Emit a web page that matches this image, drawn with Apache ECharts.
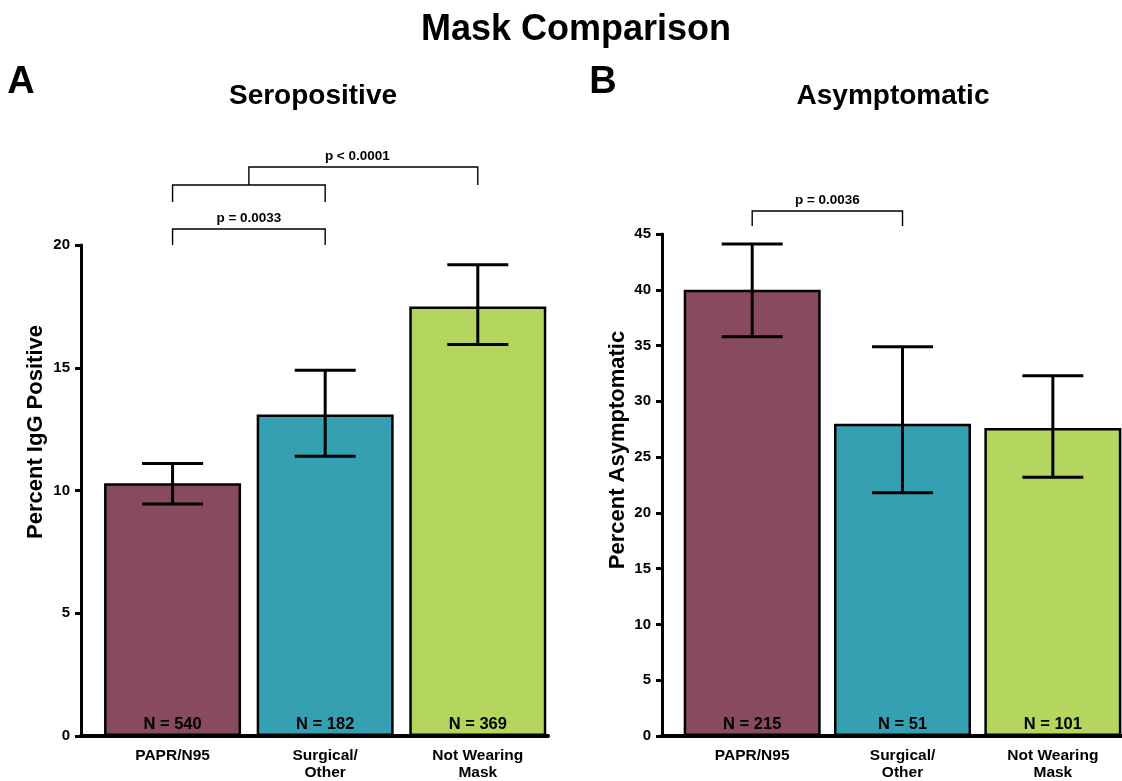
<!DOCTYPE html>
<html>
<head>
<meta charset="utf-8">
<title>Mask Comparison</title>
<script src="https://cdn.jsdelivr.net/npm/echarts@6/dist/echarts.min.js"></script>
<style>
  html, body { margin: 0; padding: 0; background: #fff; overflow: hidden; }
  #chart { width: 1122px; height: 781px; }
</style>
</head>
<body>
<div id="chart"></div>
<script>
// Mask groups shown on both panels
const categories = ['PAPR/N95', 'Surgical/\nOther', 'Not Wearing\nMask'];
const barColors = ['#884a5f', '#35a0b1', '#b5d65e'];

// Panel A: percent IgG positive, with error bar bounds and group sizes
const seroValues = [10.3, 13.1, 17.5];
const seroLow = [9.45, 11.4, 15.95];
const seroHigh = [11.1, 14.9, 19.2];
const seroN = [540, 182, 369];
const seroTicks = [0, 5, 10, 15, 20];

// Panel B: percent asymptomatic, with error bar bounds and group sizes
const asymValues = [40.0, 28.0, 27.6];
const asymLow = [35.8, 21.8, 23.2];
const asymHigh = [44.1, 34.9, 32.3];
const asymN = [215, 51, 101];
const asymTicks = [0, 5, 10, 15, 20, 25, 30, 35, 40, 45];

// Pairwise comparisons: groups compared (1-based positions) and p-values
const seroTests = [
  { a: [1], b: [2], p: 'p = 0.0033' },
  { a: [1, 2], b: [3], p: 'p < 0.0001' }
];
const asymTests = [
  { a: [1], b: [2], p: 'p = 0.0036' }
];

const FONT = '"Liberation Sans", Arial, sans-serif';
const chart = echarts.init(document.getElementById('chart'), null, { renderer: 'canvas', width: 1122, height: 781 });

function xAxisDef(gridIndex) {
  return {
    gridIndex, type: 'value', min: 0.4, max: 3.46,
    splitLine: { show: false },
    axisLine: { show: true, onZero: false, lineStyle: { color: '#000', width: 4 } },
    axisTick: { show: false },
    axisLabel: {
      customValues: [1, 2, 3],
      formatter: v => categories[Math.round(v) - 1] || '',
      color: '#000', fontFamily: FONT, fontWeight: 'bold', fontSize: 15.5,
      lineHeight: 17, margin: 11
    }
  };
}

function yAxisDef(gridIndex, ticks) {
  return {
    gridIndex, type: 'value', min: ticks[0], max: ticks[ticks.length - 1],
    interval: ticks[1] - ticks[0],
    splitLine: { show: false },
    axisLine: { show: true, lineStyle: { color: '#000', width: 3 } },
    axisTick: { show: true, length: 6, lineStyle: { color: '#000', width: 3 } },
    axisLabel: { color: '#000', fontFamily: FONT, fontWeight: 'bold', fontSize: 15, margin: 11 }
  };
}

function barSeries(idx, values, ns) {
  return {
    type: 'bar', xAxisIndex: idx, yAxisIndex: idx, barWidth: 137, z: 2,
    data: values.map((v, i) => ({
      value: [i + 1, v],
      itemStyle: { color: barColors[i], borderColor: '#000', borderWidth: 2.5 }
    })),
    label: {
      show: true, position: 'insideBottom', distance: 3,
      formatter: p => 'N = ' + ns[p.dataIndex],
      color: '#000', fontFamily: FONT, fontWeight: 'bold', fontSize: 16.5
    },
    animation: false
  };
}

function errorSeries(idx, low, high) {
  return {
    type: 'custom', xAxisIndex: idx, yAxisIndex: idx, z: 3,
    data: low.map((l, i) => [i + 1, l, high[i]]),
    renderItem: (params, api) => {
      const lo = api.coord([api.value(0), api.value(1)]);
      const hi = api.coord([api.value(0), api.value(2)]);
      const cap = 30.5;
      const style = { stroke: '#000', lineWidth: 3 };
      return {
        type: 'group',
        children: [
          { type: 'line', shape: { x1: lo[0], y1: lo[1], x2: hi[0], y2: hi[1] }, style },
          { type: 'line', shape: { x1: hi[0] - cap, y1: hi[1], x2: hi[0] + cap, y2: hi[1] }, style },
          { type: 'line', shape: { x1: lo[0] - cap, y1: lo[1], x2: lo[0] + cap, y2: lo[1] }, style }
        ]
      };
    },
    animation: false
  };
}

// Significance brackets drawn above the plotting area; stacked upward by level
function bracketSeries(idx, tests, top) {
  return {
    type: 'custom', xAxisIndex: idx, yAxisIndex: idx, clip: false, z: 4,
    data: tests.map((t, i) => [i]),
    renderItem: (params, api) => {
      const t = tests[api.value(0)];
      const yTop = api.coord([1, top])[1];
      const px = v => api.coord([v, top])[0];
      const style = { stroke: '#000', fill: null, lineWidth: 1.4 };
      const children = [];
      const textStyle = { fill: '#000', font: 'bold 13.5px ' + FONT, align: 'center', verticalAlign: 'bottom' };
      if (t.a.length === 1 && t.b.length === 1) {
        const x1 = px(t.a[0]), x2 = px(t.b[0]);
        const yh = yTop - (idx === 0 ? 16 : 23);
        const yl = yTop - (idx === 0 ? 0 : 8);
        children.push({ type: 'polyline', shape: { points: [[x1, yl], [x1, yh], [x2, yh], [x2, yl]] }, style });
        children.push({ type: 'text', style: Object.assign({ x: (x1 + x2) / 2, y: yh - 4, text: t.p }, textStyle) });
      } else {
        // grouped comparison: sub-bracket joins group a, then a line to group b
        const x1 = px(t.a[0]), x2 = px(t.a[t.a.length - 1]);
        const xm = (x1 + x2) / 2, xb = px(t.b[0]);
        const ySub = yTop - 60, ySubLeg = yTop - 43, yh = yTop - 78;
        children.push({ type: 'polyline', shape: { points: [[x1, ySubLeg], [x1, ySub], [x2, ySub], [x2, ySubLeg]] }, style });
        children.push({ type: 'polyline', shape: { points: [[xm, ySub], [xm, yh], [xb, yh], [xb, ySub]] }, style });
        children.push({ type: 'text', style: Object.assign({ x: (xm + xb) / 2 - 6, y: yh - 4, text: t.p }, textStyle) });
      }
      return { type: 'group', children };
    },
    animation: false
  };
}

const option = {
  backgroundColor: '#fff',
  animation: false,
  grid: [
    { left: 81, width: 467, top: 245, height: 495, containLabel: false },
    { left: 662, width: 466, top: 234, height: 506, containLabel: false }
  ],
  xAxis: [xAxisDef(0), xAxisDef(1)],
  yAxis: [yAxisDef(0, seroTicks), yAxisDef(1, asymTicks)],
  series: [
    barSeries(0, seroValues, seroN),
    errorSeries(0, seroLow, seroHigh),
    bracketSeries(0, seroTests, seroTicks[seroTicks.length - 1]),
    barSeries(1, asymValues, asymN),
    errorSeries(1, asymLow, asymHigh),
    bracketSeries(1, asymTests, asymTicks[asymTicks.length - 1])
  ],
  graphic: [
    { type: 'text', x: 576, y: 30, style: { text: 'Mask Comparison', font: 'bold 36px ' + FONT, fill: '#000', align: 'center', verticalAlign: 'middle' } },
    { type: 'text', x: 21, y: 83, style: { text: 'A', font: 'bold 38px ' + FONT, fill: '#000', align: 'center', verticalAlign: 'middle' } },
    { type: 'text', x: 603, y: 83, style: { text: 'B', font: 'bold 38px ' + FONT, fill: '#000', align: 'center', verticalAlign: 'middle' } },
    { type: 'text', x: 313, y: 96, style: { text: 'Seropositive', font: 'bold 28px ' + FONT, fill: '#000', align: 'center', verticalAlign: 'middle' } },
    { type: 'text', x: 893, y: 96, style: { text: 'Asymptomatic', font: 'bold 28px ' + FONT, fill: '#000', align: 'center', verticalAlign: 'middle' } },
    { type: 'text', x: 36, y: 432, rotation: Math.PI / 2, style: { text: 'Percent IgG Positive', font: 'bold 22px ' + FONT, fill: '#000', align: 'center', verticalAlign: 'middle' } },
    { type: 'text', x: 618, y: 450, rotation: Math.PI / 2, style: { text: 'Percent Asymptomatic', font: 'bold 22px ' + FONT, fill: '#000', align: 'center', verticalAlign: 'middle' } }
  ]
};

chart.setOption(option);
</script>
</body>
</html>
